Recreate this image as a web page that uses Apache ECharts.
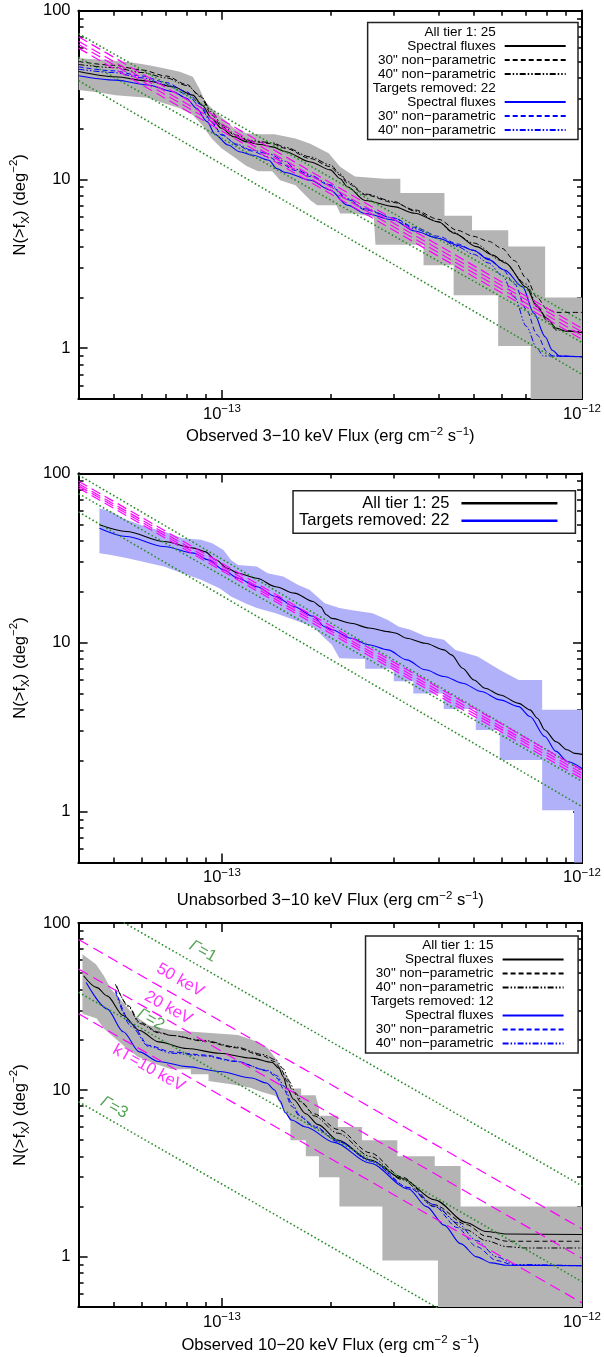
<!DOCTYPE html>
<html><head><meta charset="utf-8">
<script src="https://cdn.jsdelivr.net/npm/echarts@6/dist/echarts.min.js"></script>
<style>html,body{margin:0;padding:0;background:#fff}#c{width:604px;height:1357px}</style>
</head><body><div id="c"></div>
<script>
// ---------------- data ----------------
const X_MIN = 4e-14, X_MAX = 1e-12, Y_MIN = 0.5, Y_MAX = 100;
const xMajor = [1e-13, 1e-12];
const xMinor = [5e-14,6e-14,7e-14,8e-14,9e-14,2e-13,3e-13,4e-13,5e-13,6e-13,7e-13,8e-13,9e-13];
const yMajor = [1, 10, 100];
const yMinor = [0.6,0.7,0.8,0.9,2,3,4,5,6,7,8,9,20,30,40,50,60,70,80,90];
const lineX = [4e-14, 1e-12];
const xTitles = ['Observed 3\u221210 keV Flux (erg cm{s|\u22122} s{s|\u22121})',
                 'Unabsorbed 3\u221210 keV Flux (erg cm{s|\u22122} s{s|\u22121})',
                 'Observed 10\u221220 keV Flux (erg cm{s|\u22122} s{s|\u22121})'];
const yTitle = 'N(>f{u|X}) (deg{s|\u22122})';

// Panel 1
const p1BandHi = [[4e-14,52.3],[4.77e-14,51],[5.62e-14,49.4],[6.22e-14,47.7],[6.9e-14,45.6],[7.64e-14,43.5],[8.3e-14,40.6],[8.65e-14,34.7],[9.0e-14,28.9],[9.57e-14,25.2],[1.02e-13,22.5],[1.08e-13,20.1],[1.17e-13,18.8],[1.28e-13,18.5],[1.4e-13,18.5],[1.6e-13,17.5],[1.76e-13,16.3],[1.98e-13,14.3],[2.13e-13,11.9],[2.34e-13,10.4],[2.83e-13,10.1],[3.13e-13,10.1],[3.13e-13,8.3],[4.15e-13,8.3],[4.15e-13,6.1],[4.95e-13,6.1],[4.95e-13,5.0],[6.24e-13,5.0],[6.24e-13,4.0],[7.9e-13,4.0],[7.9e-13,2.0],[1e-12,2.0]];
const p1BandLo = [[4e-14,33.9],[4.57e-14,32.8],[5.07e-14,31.6],[6.22e-14,30.5],[6.9e-14,28.3],[7.64e-14,26.4],[8.3e-14,24.1],[8.81e-14,21.0],[9.37e-14,17.5],[9.97e-14,15.3],[1.08e-13,13.6],[1.17e-13,12.0],[1.26e-13,11.2],[1.38e-13,11.2],[1.45e-13,9.9],[1.6e-13,9.25],[1.76e-13,7.54],[1.84e-13,7.04],[2.08e-13,7.04],[2.13e-13,6.28],[2.34e-13,6.28],[2.64e-13,6.0],[2.67e-13,4.1],[3.63e-13,4.1],[3.63e-13,3.1],[4.4e-13,3.1],[4.4e-13,2.06],[5.85e-13,2.06],[5.85e-13,1.03],[7.2e-13,1.03],[7.2e-13,0.3],[1e-12,0.3]];
const p1AllSpec = [[4e-14,43.6],[5.07e-14,40.6],[6.22e-14,38.3],[7.33e-14,35.4],[8.3e-14,31.6],[8.81e-14,27.6],[9.37e-14,23.0],[9.97e-14,20.1],[1.08e-13,17.9],[1.17e-13,16.7],[1.28e-13,16.1],[1.38e-13,15.6],[1.5e-13,14.6],[1.76e-13,12.7],[2.0e-13,11.4],[2.13e-13,10.1],[2.23e-13,9.05],[2.5e-13,7.5],[3.0e-13,6.9],[3.43e-13,6.3],[4.0e-13,5.6],[4.42e-13,4.8],[5.09e-13,4.0],[5.65e-13,3.56],[6.13e-13,3.2],[7.0e-13,2.3],[7.5e-13,1.76],[8.0e-13,1.5],[8.5e-13,1.31],[9.0e-13,1.26],[1e-12,1.24]];
const p1All30 = [[4e-14,50],[5e-14,47.5],[6e-14,44.5],[7e-14,41],[8e-14,36.5],[8.7e-14,31],[9.4e-14,24],[1e-13,20.5],[1.1e-13,18],[1.2e-13,16.8],[1.38e-13,16.3],[1.5e-13,15.3],[1.76e-13,13.3],[2e-13,11.9],[2.13e-13,10.6],[2.23e-13,9.5],[2.5e-13,8.1],[3e-13,7.3],[3.43e-13,6.6],[4e-13,5.8],[4.5e-13,5.0],[5e-13,4.6],[5.5e-13,4.3],[6e-13,3.9],[6.5e-13,3.3],[7e-13,2.6],[7.5e-13,2.0],[8e-13,1.7],[8.5e-13,1.63],[1e-12,1.63]];
const p1All40 = [[4e-14,48],[5e-14,46],[6e-14,43],[7e-14,40],[8e-14,36],[8.7e-14,31.5],[9.4e-14,25],[1e-13,21],[1.1e-13,18.3],[1.2e-13,17],[1.38e-13,16.5],[1.5e-13,15.5],[1.76e-13,13.6],[2e-13,12.2],[2.13e-13,10.8],[2.23e-13,9.7],[2.5e-13,8.2],[3e-13,7.4],[3.43e-13,6.5],[4e-13,5.6],[4.35e-13,4.9],[5e-13,4.2],[6e-13,3.3],[7e-13,2.4],[7.5e-13,1.8],[8e-13,1.45],[8.5e-13,1.28],[1e-12,1.25]];
const p1TrSpec = [[4e-14,41.2],[5.07e-14,38.8],[6.22e-14,36.3],[7.33e-14,33.1],[7.97e-14,30.3],[8.5e-14,26.4],[9.1e-14,22.0],[9.57e-14,18.5],[1.04e-13,16.0],[1.12e-13,14.6],[1.22e-13,13.9],[1.35e-13,13.0],[1.42e-13,11.6],[1.5e-13,11.0],[1.76e-13,9.9],[2e-13,8.65],[2.23e-13,7.04],[2.5e-13,6.28],[3e-13,5.74],[3.43e-13,4.95],[4e-13,4.47],[4.56e-13,4.05],[5.0e-13,3.8],[5.5e-13,3.35],[6.1e-13,2.9],[6.84e-13,2.31],[7.35e-13,1.61],[7.9e-13,1.17],[8.27e-13,0.973],[8.67e-13,0.897],[1e-12,0.889]];
const p1Tr30 = [[4e-14,46.5],[5e-14,44],[6e-14,41],[7e-14,37.5],[8e-14,33],[8.7e-14,28],[9.3e-14,22.5],[1e-13,18.5],[1.1e-13,16],[1.2e-13,14.8],[1.35e-13,13.6],[1.45e-13,12.5],[1.6e-13,11.3],[1.76e-13,10.4],[2e-13,9.2],[2.23e-13,7.6],[2.5e-13,6.6],[3e-13,5.9],[3.43e-13,5.2],[4e-13,4.6],[4.5e-13,4.15],[5e-13,3.8],[5.5e-13,3.4],[6e-13,2.95],[6.5e-13,2.4],[7e-13,1.7],[7.5e-13,1.2],[8e-13,0.95],[8.3e-13,0.9],[1e-12,0.89]];
const p1Tr40 = [[4e-14,45],[5e-14,43],[6e-14,40],[7e-14,36.5],[8e-14,32],[8.7e-14,27],[9.3e-14,22],[1e-13,18.3],[1.1e-13,16.2],[1.2e-13,15],[1.35e-13,14.2],[1.5e-13,12.8],[1.6e-13,11.5],[1.76e-13,10.6],[2e-13,9.3],[2.23e-13,7.7],[2.5e-13,6.7],[3e-13,5.9],[3.43e-13,5.1],[4e-13,4.5],[4.5e-13,4.0],[5e-13,3.6],[5.5e-13,3.2],[6e-13,2.7],[6.5e-13,2.0],[7e-13,1.35],[7.5e-13,1.0],[7.8e-13,0.9],[1e-12,0.89]];
const p1Magenta = [[70,1.31],[66,1.25],[63,1.19],[60,1.13]];
const p1Green = [[73,1.45],[53,1.08],[38.5,0.70]];

// Panel 2
const p2BandHi = [[4.57e-14,62.4],[4.92e-14,59.6],[5.43e-14,53.2],[6.13e-14,48.6],[6.9e-14,45.4],[7.77e-14,41.4],[8.75e-14,40.5],[9.4e-14,38.7],[1.01e-13,35.3],[1.06e-13,30.8],[1.11e-13,28.8],[1.25e-13,28.2],[1.34e-13,25.7],[1.48e-13,24.6],[1.63e-13,21.9],[1.75e-13,20.5],[1.93e-13,17.1],[2.12e-13,16.0],[2.28e-13,15.6],[2.62e-13,14.9],[2.89e-13,13.6],[3.10e-13,12.4],[3.34e-13,11.9],[3.67e-13,10.9],[4.14e-13,10.4],[4.45e-13,9.05],[5.13e-13,8.27],[5.92e-13,6.89],[6.67e-13,6.0],[7.75e-13,6.0],[7.75e-13,4.0],[1e-12,4.0]];
const p2BandLo = [[4.57e-14,33.8],[4.92e-14,33.0],[5.43e-14,31.6],[6.9e-14,28.2],[7.77e-14,25.7],[8.75e-14,23.5],[9.87e-14,20.9],[1.06e-13,18.7],[1.16e-13,17.1],[1.25e-13,16.0],[1.41e-13,14.9],[1.59e-13,13.6],[1.79e-13,12.4],[1.93e-13,10.6],[2.02e-13,9.7],[2.12e-13,8.07],[2.5e-13,8.0],[2.5e-13,7.0],[3.0e-13,7.0],[3.0e-13,5.9],[3.4e-13,5.9],[3.4e-13,5.0],[4.13e-13,5.0],[4.13e-13,4.05],[5.07e-13,4.05],[5.07e-13,3.04],[5.91e-13,3.04],[5.91e-13,2.02],[7.75e-13,2.02],[7.75e-13,1.02],[9.5e-13,1.02],[9.5e-13,0.3],[1e-12,0.3]];
const p2AllSpec = [[4.57e-14,49.7],[5.43e-14,45.4],[6.9e-14,39.6],[8.35e-14,36.2],[8.97e-14,34.5],[9.64e-14,30.8],[1.035e-13,27.5],[1.11e-13,25.7],[1.25e-13,24.0],[1.41e-13,21.4],[1.59e-13,19.6],[1.79e-13,17.5],[1.88e-13,16.3],[1.95e-13,14.6],[2.02e-13,13.9],[2.28e-13,13.0],[2.56e-13,12.2],[2.89e-13,11.6],[3.03e-13,11.4],[3.26e-13,10.6],[3.67e-13,9.9],[4.14e-13,9.05],[4.34e-13,8.45],[4.66e-13,7.05],[5.01e-13,6.0],[5.38e-13,5.37],[5.92e-13,4.9],[6.67e-13,4.37],[7.17e-13,4.0],[7.52e-13,3.57],[7.88e-13,3.04],[8.47e-13,2.59],[9.1e-13,2.32],[9.55e-13,2.21],[1e-12,2.18]];
const p2TrSpec = [[4.57e-14,47.5],[5.43e-14,42.4],[6.9e-14,37.0],[8.35e-14,33.8],[9.18e-14,30.8],[1.01e-13,26.9],[1.11e-13,24.0],[1.25e-13,21.4],[1.41e-13,18.7],[1.59e-13,16.3],[1.79e-13,14.3],[1.93e-13,12.4],[2.02e-13,11.9],[2.28e-13,10.6],[2.56e-13,9.7],[2.89e-13,9.05],[3.26e-13,7.9],[3.67e-13,6.9],[4.14e-13,6.3],[4.66e-13,5.75],[5.25e-13,5.13],[5.92e-13,4.58],[6.67e-13,4.18],[7.17e-13,3.65],[7.88e-13,2.78],[8.47e-13,2.27],[9.1e-13,1.98],[1e-12,1.8]];
const p2Magenta = [[90,1.76],[87,1.69],[84.5,1.63],[82,1.57]];
const p2Green = [[98,1.75],[76,1.51],[59.3,1.07]];

// Panel 3
const p3BandHi = [[4.1e-14,65],[4.47e-14,56.6],[4.7e-14,48.3],[4.92e-14,40.3],[5.3e-14,33.6],[5.7e-14,28.0],[6.27e-14,24.4],[7.24e-14,22.8],[8.3e-14,22.3],[1.11e-13,21.3],[1.25e-13,19.5],[1.34e-13,17.8],[1.41e-13,15.5],[1.48e-13,12.9],[1.55e-13,11.3],[1.55e-13,10.2],[1.66e-13,10.2],[1.66e-13,9.3],[1.82e-13,9.3],[1.86e-13,7.8],[1.86e-13,7.0],[2.1e-13,7.0],[2.1e-13,6.0],[2.45e-13,6.0],[2.45e-13,5.0],[3.07e-13,5.0],[3.07e-13,4.0],[3.9e-13,4.0],[3.9e-13,3.5],[4.6e-13,3.5],[4.6e-13,2.0],[1e-12,2.0]];
const p3BandLo = [[4.1e-14,28.6],[4.49e-14,26.8],[4.7e-14,23.3],[5.05e-14,20.4],[5.43e-14,17.8],[5.84e-14,15.8],[6.42e-14,14.5],[7.24e-14,13.3],[8.2e-14,13.3],[8.2e-14,12.4],[9.18e-14,12.4],[9.18e-14,11.3],[1.06e-13,10.8],[1.2e-13,10.3],[1.28e-13,9.8],[1.41e-13,9.2],[1.55e-13,6.5],[1.55e-13,5.0],[1.71e-13,5.0],[1.71e-13,4.0],[1.86e-13,4.0],[1.86e-13,3.0],[2.12e-13,3.0],[2.12e-13,2.0],[2.79e-13,2.0],[2.79e-13,0.95],[3.98e-13,0.95],[3.98e-13,0.3],[1e-12,0.3]];
const p3AllSpec = [[4.13e-14,48.3],[4.5e-14,41],[4.8e-14,36.6],[5.32e-14,27.9],[5.9e-14,22.7],[6.67e-14,19.4],[8e-14,17.7],[9.84e-14,16.6],[1.21e-13,15.5],[1.38e-13,14.6],[1.44e-13,13.5],[1.48e-13,12.0],[1.52e-13,10.2],[1.58e-13,8.8],[1.71e-13,7.2],[1.85e-13,6.2],[2.1e-13,5.0],[2.58e-13,3.8],[3.17e-13,2.95],[3.89e-13,2.2],[4.78e-13,1.6],[5.41e-13,1.42],[6.2e-13,1.37],[1e-12,1.36]];
const p3All30 = [[5.06e-14,43],[5.5e-14,32],[5.9e-14,25.5],[6.67e-14,22.2],[7.24e-14,21.2],[8.9e-14,19.6],[1.09e-13,17.9],[1.3e-13,16.0],[1.4e-13,14.8],[1.46e-13,13.3],[1.52e-13,11.2],[1.58e-13,9.7],[1.66e-13,8.4],[1.8e-13,7.2],[2.1e-13,5.8],[2.58e-13,4.2],[3.17e-13,3.0],[3.89e-13,2.05],[4.78e-13,1.56],[5.41e-13,1.33],[6.2e-13,1.24],[1e-12,1.24]];
const p3All40 = [[5.1e-14,42],[5.5e-14,31.5],[5.9e-14,25],[6.67e-14,22],[7.24e-14,21.2],[8.9e-14,19.8],[1.09e-13,18.1],[1.3e-13,16.3],[1.41e-13,15.2],[1.48e-13,13.4],[1.54e-13,11.2],[1.6e-13,9.6],[1.68e-13,8.3],[1.8e-13,7.0],[2.1e-13,5.5],[2.58e-13,4.0],[3.17e-13,2.9],[3.89e-13,2.0],[4.78e-13,1.45],[5.41e-13,1.25],[6.2e-13,1.15],[7e-13,1.13],[1e-12,1.13]];
const p3TrSpec = [[4.2e-14,44],[4.8e-14,30.6],[5.32e-14,22.3],[5.9e-14,16.9],[6.67e-14,14.8],[8e-14,13.8],[9.84e-14,12.9],[1.21e-13,11.8],[1.33e-13,11.0],[1.4e-13,10.0],[1.45e-13,8.6],[1.5e-13,7.3],[1.56e-13,6.6],[1.71e-13,6.0],[2.05e-13,4.85],[2.57e-13,3.65],[3.3e-13,2.55],[3.7e-13,2.0],[4.14e-13,1.55],[4.6e-13,1.2],[5.1e-13,1.0],[5.6e-13,0.92],[6.2e-13,0.89],[1e-12,0.885]];
const p3Tr30 = [[5.06e-14,40],[5.6e-14,25],[6.26e-14,18.5],[7.24e-14,16.9],[8.9e-14,16.2],[1.09e-13,14.9],[1.34e-13,13.0],[1.42e-13,11.8],[1.49e-13,10.0],[1.56e-13,8.0],[1.65e-13,6.9],[1.8e-13,6.0],[2.1e-13,4.9],[2.58e-13,3.8],[3.3e-13,2.6],[3.9e-13,2.0],[4.5e-13,1.5],[5.1e-13,1.15],[5.8e-13,0.95],[6.5e-13,0.89],[1e-12,0.885]];
const p3Tr40 = [[5.06e-14,39],[5.6e-14,24],[6.26e-14,18.2],[7.24e-14,16.6],[8.9e-14,16.0],[1.09e-13,14.8],[1.34e-13,13.1],[1.42e-13,12.2],[1.49e-13,10.5],[1.56e-13,8.4],[1.65e-13,7.0],[1.8e-13,6.1],[2.1e-13,4.95],[2.58e-13,3.75],[3.3e-13,2.6],[3.9e-13,2.05],[4.5e-13,1.6],[5.1e-13,1.25],[5.8e-13,1.0],[6.5e-13,0.9],[1e-12,0.885]];
const p3KT = [[79.6,1.47],[53,0.98],[28.6,0.53]];
const p3Gamma = [[144,2.66],[38.5,0.71],[8.5,0.157]];
const p3LabelText = ['{g|\u0393}=1','50 keV','20 keV','{g|\u0393}=2','kT=10 keV','{g|\u0393}=3'];
const p3LabelPos = [[8.86e-14,67.6],[7.66e-14,45.4],[7.1e-14,31.0],[6.34e-14,26.4],[6.27e-14,13.5],[5.02e-14,7.85]];
const p3LabelKind = ['g','m','m','g','m','g'];

// legend texts
const legendText = {
  p1h1:'All tier 1: 25', p1as:'Spectral fluxes', p1a30:'30" non\u2212parametric', p1a40:'40" non\u2212parametric',
  p1h2:'Targets removed: 22', p1ts:'Spectral fluxes', p1t30:'30" non\u2212parametric', p1t40:'40" non\u2212parametric',
  p2a:'All tier 1: 25', p2t:'Targets removed: 22',
  p3h1:'All tier 1: 15', p3as:'Spectral fluxes', p3a30:'30" non\u2212parametric', p3a40:'40" non\u2212parametric',
  p3h2:'Targets removed: 12', p3ts:'Spectral fluxes', p3t30:'30" non\u2212parametric', p3t40:'40" non\u2212parametric'
};

// ---------------- styling ----------------
const FONT = "'Liberation Sans', Arial, Helvetica, sans-serif";
const FS = 16.6, FS_SUP = 11.5;
const BLACK = '#000000', BLUE = '#0000ff', MAG = '#ff00ff', GREEN = '#2a8c2a', GRAY = '#b4b4b4', LBLUE = '#b1b1f9';
const DASH = [5, 3], DASHDOT = [6, 2, 1.5, 2, 1.5, 2], MAGDASH = [10, 5], DOT = [1.6, 2.4];
const grids = [
  {left: 66.5, top: 10.7, width: 523, height: 388.3},
  {left: 64, top: 473.5, width: 523, height: 389},
  {left: 64, top: 923, width: 522.5, height: 389}
];
const supRich = {
  s: {fontSize: FS_SUP, lineHeight: 11, verticalAlign: 'top', fontFamily: FONT, color: '#000'},
  u: {fontSize: FS_SUP, lineHeight: 11, verticalAlign: 'bottom', fontFamily: FONT, color: '#000'}
};
function xLabelFmt(v) {
  const e = Math.round(Math.log10(v));
  return '10{s|' + (e < 0 ? '\u2212' : '') + Math.abs(e) + '}';
}
const xAxes = [], yAxes = [];
grids.forEach((gr, g) => {
  ['bottom', 'top'].forEach(pos => {
    [true, false].forEach(isMajor => {
      const main = isMajor && pos === 'bottom';
      xAxes.push({
        type: 'log', logBase: 10, gridIndex: g, position: pos, min: X_MIN, max: X_MAX,
        axisLine: {show: true, onZero: false, lineStyle: {color: '#000', width: 2}},
        axisTick: {show: true, inside: true, length: isMajor ? 9 : 5, lineStyle: {color: '#000', width: 1.5},
                   customValues: isMajor ? xMajor : xMinor},
        axisLabel: {show: main, customValues: xMajor, formatter: xLabelFmt, margin: 4, color: '#000',
                    fontSize: FS, lineHeight: 22, fontFamily: FONT, rich: supRich},
        splitLine: {show: false}, minorTick: {show: false}, minorSplitLine: {show: false},
        name: main ? xTitles[g] : '', nameLocation: 'middle', nameGap: 23,
        nameTextStyle: {fontSize: FS, lineHeight: 22, color: '#000', fontFamily: FONT, rich: supRich},
        silent: true
      });
    });
  });
  ['left', 'right'].forEach(pos => {
    [true, false].forEach(isMajor => {
      const main = isMajor && pos === 'left';
      yAxes.push({
        type: 'log', logBase: 10, gridIndex: g, position: pos, min: Y_MIN, max: Y_MAX,
        axisLine: {show: true, onZero: false, lineStyle: {color: '#000', width: 2}},
        axisTick: {show: true, inside: true, length: isMajor ? 9 : 5, lineStyle: {color: '#000', width: 1.5},
                   customValues: isMajor ? yMajor : yMinor},
        axisLabel: {show: main, customValues: yMajor, formatter: v => String(Math.round(v)), margin: 8,
                    color: '#000', fontSize: FS, fontFamily: FONT},
        splitLine: {show: false}, minorTick: {show: false}, minorSplitLine: {show: false},
        name: main ? yTitle : '', nameLocation: 'middle', nameGap: 34, nameRotate: 90,
        nameTextStyle: {fontSize: FS, lineHeight: 24, color: '#000', fontFamily: FONT, rich: supRich},
        silent: true
      });
    });
  });
});

function band(g, hi, lo, color) {
  return {
    type: 'custom', xAxisIndex: 4 * g, yAxisIndex: 4 * g, clip: true, silent: true, z: 1,
    data: hi,
    renderItem: (params, api) => {
      if (params.dataIndex !== 0) return null;
      const pts = hi.map(p => api.coord(p)).concat(lo.slice().reverse().map(p => api.coord(p)));
      return {type: 'polygon', shape: {points: pts}, style: {fill: color}};
    }
  };
}
function curve(g, name, data, color, type, width) {
  return {
    type: 'line', name: name, xAxisIndex: 4 * g, yAxisIndex: 4 * g, data: data,
    symbol: 'none', showSymbol: false, smooth: 0.3, smoothMonotone: 'x',
    lineStyle: {color: color, width: width || 1.1, type: type || 'solid'}, itemStyle: {color: color},
    silent: true, z: 3
  };
}
function straight(g, ends, color, type, width, z) {
  return {
    type: 'line', xAxisIndex: 4 * g, yAxisIndex: 4 * g,
    data: [[lineX[0], ends[0]], [lineX[1], ends[1]]],
    symbol: 'none', showSymbol: false, smooth: false,
    lineStyle: {color: color, width: width, type: type, cap: 'butt'}, silent: true, z: z
  };
}
function header(name, g) {
  return {type: 'line', name: name, xAxisIndex: 4 * g, yAxisIndex: 4 * g, data: [], symbol: 'none',
          lineStyle: {color: '#000'}};
}

const series = [];
series.push(band(0, p1BandHi, p1BandLo, GRAY));
series.push(band(1, p2BandHi, p2BandLo, LBLUE));
series.push(band(2, p3BandHi, p3BandLo, GRAY));
series.push(curve(0, 'p1as', p1AllSpec, BLACK, 'solid', 1.1));
series.push(curve(0, 'p1a30', p1All30, BLACK, DASH, 1));
series.push(curve(0, 'p1a40', p1All40, BLACK, DASHDOT, 1));
series.push(curve(0, 'p1ts', p1TrSpec, BLUE, 'solid', 1.1));
series.push(curve(0, 'p1t30', p1Tr30, BLUE, DASH, 1));
series.push(curve(0, 'p1t40', p1Tr40, BLUE, DASHDOT, 1));
series.push(curve(1, 'p2a', p2AllSpec, BLACK, 'solid', 1.1));
series.push(curve(1, 'p2t', p2TrSpec, BLUE, 'solid', 1.1));
series.push(curve(2, 'p3as', p3AllSpec, BLACK, 'solid', 1.1));
series.push(curve(2, 'p3a30', p3All30, BLACK, DASH, 1));
series.push(curve(2, 'p3a40', p3All40, BLACK, DASHDOT, 1));
series.push(curve(2, 'p3ts', p3TrSpec, BLUE, 'solid', 1.1));
series.push(curve(2, 'p3t30', p3Tr30, BLUE, DASH, 1));
series.push(curve(2, 'p3t40', p3Tr40, BLUE, DASHDOT, 1));
p1Green.forEach(e => series.push(straight(0, e, GREEN, DOT, 1.6, 4)));
p1Magenta.forEach(e => series.push(straight(0, e, MAG, MAGDASH, 1.2, 5)));
p2Green.forEach(e => series.push(straight(1, e, GREEN, DOT, 1.6, 4)));
p2Magenta.forEach(e => series.push(straight(1, e, MAG, MAGDASH, 1.2, 5)));
p3Gamma.forEach(e => series.push(straight(2, e, GREEN, DOT, 1.6, 4)));
p3KT.forEach(e => series.push(straight(2, e, MAG, [11, 6], 1.2, 5)));
series.push(header('p1h1', 0), header('p1h2', 0), header('p3h1', 2), header('p3h2', 2));
series.push({
  type: 'scatter', xAxisIndex: 8, yAxisIndex: 8, symbol: 'circle', symbolSize: 0.1,
  itemStyle: {color: 'rgba(0,0,0,0)'}, silent: true, z: 6,
  data: p3LabelPos.map((p, i) => ({
    value: p,
    label: {formatter: p3LabelText[i], color: p3LabelKind[i] === 'g' ? GREEN : MAG,
            rich: {g: {fontStyle: 'italic', fontSize: FS, fontFamily: FONT, color: p3LabelKind[i] === 'g' ? GREEN : MAG}}}
  })),
  label: {show: true, position: 'inside', rotate: -29.3, fontSize: FS, fontFamily: FONT}
});

function legendCfg(names, right, top, padding, itemWidth, fontSize, lineHeight, lineWidth, textPad) {
  return {
    orient: 'vertical', align: 'right', right: right, top: top, padding: padding,
    itemGap: 0, itemWidth: itemWidth, itemHeight: 10, selectedMode: false,
    borderColor: '#222', borderWidth: 1.5, backgroundColor: '#fff',
    itemStyle: {opacity: 0}, lineStyle: {width: lineWidth},
    textStyle: {fontSize: fontSize, lineHeight: lineHeight, color: '#000', fontFamily: FONT, padding: [0, textPad, 0, 0]},
    formatter: n => legendText[n],
    data: names.map(n => (n.indexOf('h') === 2 ? {name: n, icon: 'none'} : n))
  };
}
const legends = [
  legendCfg(['p1h1','p1as','p1a30','p1a40','p1h2','p1ts','p1t30','p1t40'], 26, 22.5, [2.5, 11.3, 2.5, 5], 61, 13.5, 13.5, 2, 4),
  legendCfg(['p2a','p2t'], 28.6, 490.7, [4, 16.7, 4, 6], 96, 16.5, 17.3, 2.5, 7),
  legendCfg(['p3h1','p3as','p3a30','p3a40','p3h2','p3ts','p3t30','p3t40'], 25.9, 936, [2.5, 13.5, 2.5, 5], 61, 13.5, 13.6, 2, 4)
];

const chart = echarts.init(document.getElementById('c'), null, {renderer: 'canvas'});
chart.setOption({
  backgroundColor: '#fff',
  animation: false,
  textStyle: {fontFamily: FONT},
  grid: grids,
  xAxis: xAxes,
  yAxis: yAxes,
  legend: legends,
  series: series
});
</script>
</body></html>
